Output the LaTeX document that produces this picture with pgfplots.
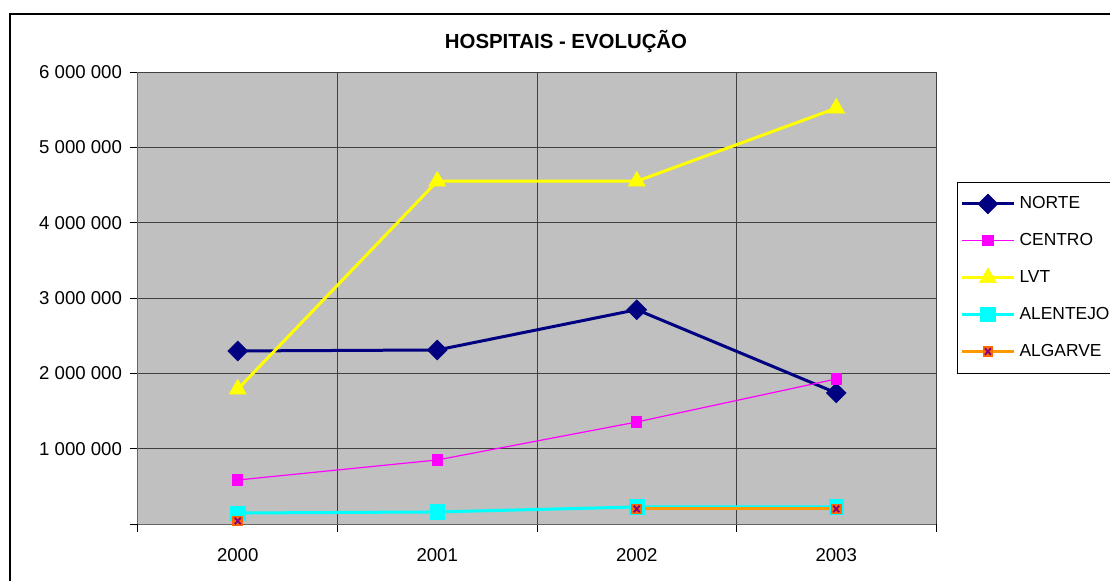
\documentclass[border=0pt]{standalone}
\usepackage{pgfplots}
\pgfplotsset{compat=1.18}
\usepackage{fontspec}
\setmainfont{Liberation Sans}
\definecolor{navyc}{RGB}{0,0,128}
\definecolor{magc}{RGB}{255,0,255}
\definecolor{yelc}{RGB}{255,255,0}
\definecolor{cyac}{RGB}{0,255,255}
\definecolor{orac}{RGB}{255,153,0}
\definecolor{algfill}{RGB}{255,102,0}
\definecolor{purc}{RGB}{128,0,128}
\definecolor{plotbg}{RGB}{192,192,192}
\pgfdeclareplotmark{sqx}{%
  \pgfpathrectangle{\pgfpoint{-\pgfplotmarksize}{-\pgfplotmarksize}}{\pgfpoint{2\pgfplotmarksize}{2\pgfplotmarksize}}%
  \pgfsetfillcolor{algfill}\pgfusepathqfill
  \pgfsetstrokecolor{purc}\pgfsetlinewidth{0.9pt}%
  \pgfpathmoveto{\pgfpoint{-0.55\pgfplotmarksize}{-0.6\pgfplotmarksize}}%
  \pgfpathlineto{\pgfpoint{0.55\pgfplotmarksize}{0.6\pgfplotmarksize}}%
  \pgfpathmoveto{\pgfpoint{-0.55\pgfplotmarksize}{0.6\pgfplotmarksize}}%
  \pgfpathlineto{\pgfpoint{0.55\pgfplotmarksize}{-0.6\pgfplotmarksize}}%
  \pgfusepathqstroke}
\begin{document}
\begin{tikzpicture}
\useasboundingbox (0pt,0pt) rectangle (555pt,290pt);
\draw[black, line width=0.6pt] (5pt,-10pt) rectangle (600pt,283pt);
\begin{axis}[
  at={(69pt,28pt)}, anchor=south west,
  scale only axis, width=399pt, height=226pt,
  xmin=-0.5, xmax=3.5, ymin=0, ymax=6000000,
  axis background/.style={fill=plotbg},
  xtick={0,1,2,3}, xticklabels={2000,2001,2002,2003},
  minor xtick={-0.5,0.5,1.5,2.5,3.5},
  ytick={0,1000000,2000000,3000000,4000000,5000000,6000000},
  yticklabels={,1 000 000,2 000 000,3 000 000,4 000 000,5 000 000,6 000 000},
  scaled y ticks=false,
  tick align=outside,
  major x tick style={draw=none},
  major tick length=4pt, minor tick length=4pt,
  tick style={black, line width=0.5pt},
  xmajorgrids=false, xminorgrids=true, ymajorgrids=true,
  grid style={black!75, line width=0.5pt},
  minor grid style={black!75, line width=0.5pt},
  axis line style={black!60, line width=0.5pt},
  axis x line*=bottom, axis y line*=left,
  ticklabel style={font=\fontsize{9.3}{11}\selectfont},
  xticklabel style={yshift=-4.5pt},
  yticklabel style={xshift=-0.5pt},
  unbounded coords=jump,
  legend cell align=left,
  legend style={at={(1.026,0.757)}, anchor=north west, draw=black, fill=white,
    font=\fontsize{8.7}{10.5}\selectfont, row sep=6.9pt, inner ysep=5pt, inner xsep=1.5pt,
    line width=0.5pt},
  legend image code/.code={\draw[mark repeat=2,mark phase=2] plot coordinates {(0cm,0cm) (0.46cm,0cm) (0.92cm,0cm)};},
]
\addplot[navyc, line width=1.5pt, mark=square*, mark size=3.5pt, mark options={rotate=45, fill=navyc, draw=navyc, line width=0.3pt}]
  coordinates {(0,2297000) (1,2310000) (2,2845000) (3,1740000)};
\addlegendentry{NORTE}
\addplot[magc, line width=0.6pt, mark=square*, mark size=2.5pt, mark options={fill=magc, draw=magc}]
  coordinates {(0,584000) (1,850000) (2,1354000) (3,1925000)};
\addlegendentry{CENTRO}
\addplot[yelc, line width=1.5pt, mark=triangle*, mark size=4.9pt, mark options={fill=yelc, draw=yelc, line width=0.3pt}]
  coordinates {(0,1790000) (1,4550000) (2,4550000) (3,5520000)};
\addlegendentry{LVT}
\addplot[cyac, line width=1.5pt, mark=square*, mark size=3.6pt, mark options={fill=cyac, draw=cyac, line width=0.3pt}]
  coordinates {(0,146000) (1,160000) (2,226000) (3,226000)};
\addlegendentry{ALENTEJO}
\addplot[orac, line width=1.5pt, mark=sqx, mark size=2.7pt]
  coordinates {(0,40000) (1,nan) (2,200000) (3,200000)};
\addlegendentry{ALGARVE}
\end{axis}
\node[font=\bfseries\fontsize{10.2}{12}\selectfont, anchor=base] at (283pt,265.5pt) {HOSPITAIS - EVOLUÇÃO};
\end{tikzpicture}
\end{document}
